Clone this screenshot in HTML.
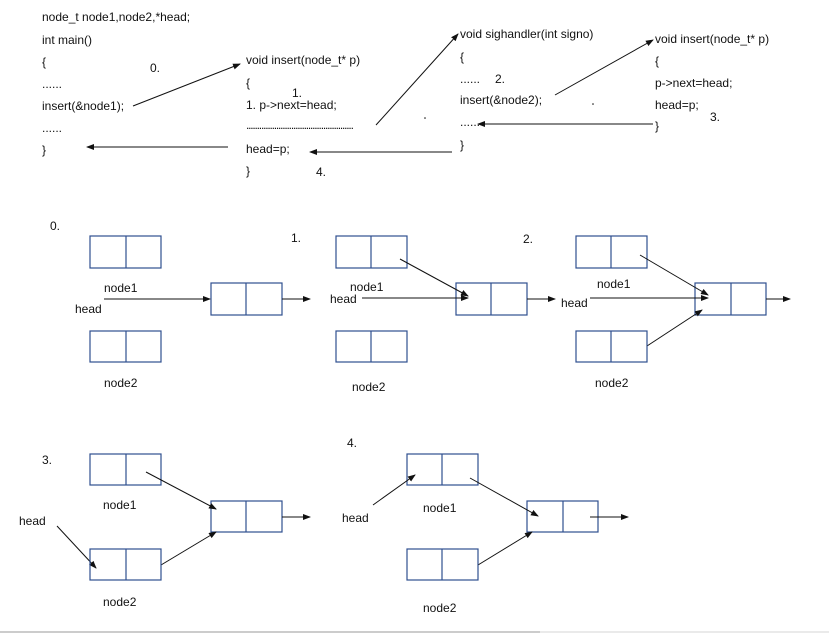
<!DOCTYPE html>
<html><head><meta charset="utf-8"><style>
html,body{margin:0;padding:0;background:#fff;}
svg{display:block;}
text{font-family:"Liberation Sans","Noto Sans CJK SC",sans-serif;font-size:12px;fill:#111;}
.b{fill:none;stroke:#2f4f8f;stroke-width:1.2;}
.a{stroke:#111;stroke-width:1;fill:none;marker-end:url(#m);}
</style></head><body>
<svg width="829" height="634" viewBox="0 0 829 634" xmlns="http://www.w3.org/2000/svg">
<defs><marker id="m" markerWidth="8" markerHeight="6" refX="7" refY="3" orient="auto" markerUnits="userSpaceOnUse"><path d="M0,0 L8,3 L0,6 z" fill="#111"/></marker></defs>
<!-- code -->
<g dominant-baseline="middle">
<text x="42" y="18">node_t node1,node2,*head;</text>
<text x="42" y="41">int main()</text>
<text x="42" y="63">{</text>
<text x="42" y="85">......</text>
<text x="42" y="107">insert(&amp;node1);</text>
<text x="42" y="129">......</text>
<text x="42" y="151">}</text>
<text x="150" y="69">0.</text>
<text x="246" y="61">void insert(node_t* p)</text>
<text x="246" y="84">{</text>
<text x="292" y="94">1.</text>
<text x="246" y="106">1. p-&gt;next=head;</text>
<text x="246" y="126" letter-spacing="-1.2">..................................................</text>
<text x="246" y="150">head=p;</text>
<text x="246" y="172">}</text>
<text x="316" y="173">4.</text>
<text x="460" y="35">void sighandler(int signo)</text>
<text x="460" y="58">{</text>
<text x="460" y="80">......</text>
<text x="495" y="80">2.</text>
<text x="460" y="101">insert(&amp;node2);</text>
<text x="460" y="123">......</text>
<text x="460" y="146">}</text>
<text x="655" y="40">void insert(node_t* p)</text>
<text x="655" y="62">{</text>
<text x="655" y="84">p-&gt;next=head;</text>
<text x="655" y="106">head=p;</text>
<text x="655" y="127">}</text>
<text x="710" y="118">3.</text>
</g>
<circle cx="425" cy="118" r="0.8" fill="#111"/>
<circle cx="593" cy="104" r="0.8" fill="#111"/>
<line class="a" x1="133" y1="106" x2="240" y2="64"/>
<line class="a" x1="376" y1="125" x2="458" y2="34"/>
<line class="a" x1="555" y1="95" x2="653" y2="40"/>
<line class="a" x1="653" y1="124" x2="478" y2="124"/>
<line class="a" x1="452" y1="152" x2="310" y2="152"/>
<line class="a" x1="228" y1="147" x2="87" y2="147"/>
<!-- panel 0 -->
<text x="50" y="230">0.</text>
<rect class="b" x="90" y="236" width="71" height="32"/><line class="b" x1="126" y1="236" x2="126" y2="268"/>
<text x="104" y="292">node1</text>
<text x="75" y="313">head</text>
<rect class="b" x="211" y="283" width="71" height="32"/><line class="b" x1="246" y1="283" x2="246" y2="315"/>
<line class="a" x1="104" y1="299" x2="210" y2="299"/>
<line class="a" x1="282" y1="299" x2="310" y2="299"/>
<rect class="b" x="90" y="331" width="71" height="31"/><line class="b" x1="126" y1="331" x2="126" y2="362"/>
<text x="104" y="387">node2</text>
<!-- panel 1 -->
<text x="291" y="242">1.</text>
<rect class="b" x="336" y="236" width="71" height="32"/><line class="b" x1="371" y1="236" x2="371" y2="268"/>
<text x="350" y="291">node1</text>
<text x="330" y="303">head</text>
<rect class="b" x="456" y="283" width="71" height="32"/><line class="b" x1="491" y1="283" x2="491" y2="315"/>
<line class="a" x1="362" y1="298" x2="468" y2="298"/>
<line class="a" x1="400" y1="259" x2="468" y2="296"/>
<line class="a" x1="527" y1="299" x2="555" y2="299"/>
<rect class="b" x="336" y="331" width="71" height="31"/><line class="b" x1="371" y1="331" x2="371" y2="362"/>
<text x="352" y="391">node2</text>
<!-- panel 2 -->
<text x="523" y="243">2.</text>
<rect class="b" x="576" y="236" width="71" height="32"/><line class="b" x1="611" y1="236" x2="611" y2="268"/>
<text x="597" y="288">node1</text>
<text x="561" y="307">head</text>
<rect class="b" x="695" y="283" width="71" height="32"/><line class="b" x1="731" y1="283" x2="731" y2="315"/>
<line class="a" x1="590" y1="298" x2="708" y2="298"/>
<line class="a" x1="640" y1="255" x2="708" y2="295"/>
<line class="a" x1="647" y1="346" x2="702" y2="310"/>
<line class="a" x1="766" y1="299" x2="790" y2="299"/>
<rect class="b" x="576" y="331" width="71" height="31"/><line class="b" x1="611" y1="331" x2="611" y2="362"/>
<text x="595" y="387">node2</text>
<!-- panel 3 -->
<text x="42" y="464">3.</text>
<rect class="b" x="90" y="454" width="71" height="31"/><line class="b" x1="126" y1="454" x2="126" y2="485"/>
<text x="103" y="509">node1</text>
<text x="19" y="525">head</text>
<rect class="b" x="211" y="501" width="71" height="31"/><line class="b" x1="246" y1="501" x2="246" y2="532"/>
<line class="a" x1="146" y1="472" x2="216" y2="509"/>
<line class="a" x1="161" y1="565" x2="216" y2="532"/>
<line class="a" x1="57" y1="526" x2="96" y2="568"/>
<line class="a" x1="282" y1="517" x2="310" y2="517"/>
<rect class="b" x="90" y="549" width="71" height="31"/><line class="b" x1="126" y1="549" x2="126" y2="580"/>
<text x="103" y="606">node2</text>
<!-- panel 4 -->
<text x="347" y="447">4.</text>
<rect class="b" x="407" y="454" width="71" height="31"/><line class="b" x1="442" y1="454" x2="442" y2="485"/>
<text x="423" y="512">node1</text>
<text x="342" y="522">head</text>
<line class="a" x1="373" y1="505" x2="415" y2="475"/>
<rect class="b" x="527" y="501" width="71" height="31"/><line class="b" x1="563" y1="501" x2="563" y2="532"/>
<line class="a" x1="470" y1="478" x2="538" y2="516"/>
<line class="a" x1="478" y1="565" x2="532" y2="532"/>
<line class="a" x1="590" y1="517" x2="628" y2="517"/>
<rect class="b" x="407" y="549" width="71" height="31"/><line class="b" x1="442" y1="549" x2="442" y2="580"/>
<text x="423" y="612">node2</text>
<line x1="0" y1="632" x2="540" y2="632" stroke="#bbb" stroke-width="1.5"/>
<line x1="540" y1="632" x2="829" y2="632" stroke="#e4e4e4" stroke-width="1.5"/>
</svg>
</body></html>
